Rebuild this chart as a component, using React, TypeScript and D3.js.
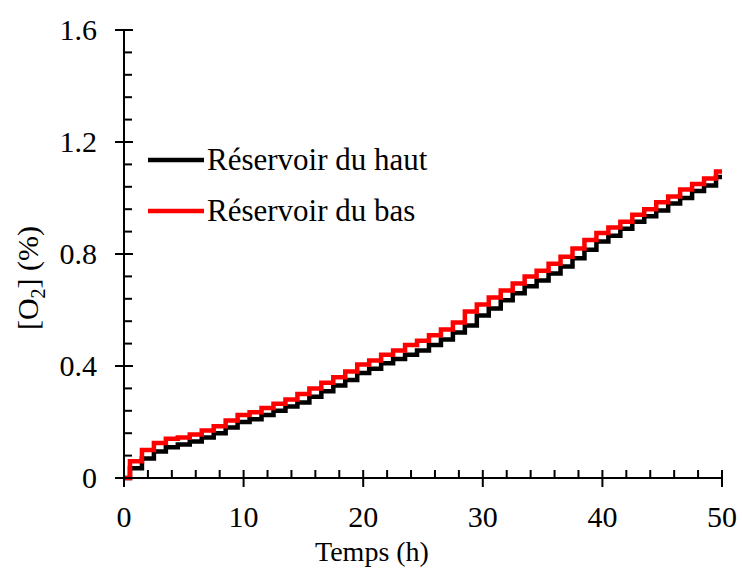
import React from 'react';
import * as d3 from 'd3';

const width = 742;
const height = 569;
const margin = { left: 124, right: 20, top: 30, bottom: 91 };
const font = "'Times New Roman', Tinos, 'Liberation Serif', 'DejaVu Serif', serif";

// time in hours, one reading per hour
const hours = [
  0, 1, 2, 3, 4, 5, 6, 7, 8, 9, 10, 11, 12, 13, 14, 15, 16, 17, 18, 19, 20,
  21, 22, 23, 24, 25, 26, 27, 28, 29, 30, 31, 32, 33, 34, 35, 36, 37, 38, 39, 40,
  41, 42, 43, 44, 45, 46, 47, 48, 49, 50,
];

const hautValues = [
  0, 0.035, 0.07, 0.095, 0.11, 0.12, 0.13, 0.145, 0.16, 0.18, 0.2,
  0.21, 0.225, 0.24, 0.255, 0.27, 0.29, 0.31, 0.33, 0.35, 0.375,
  0.39, 0.41, 0.425, 0.44, 0.455, 0.475, 0.495, 0.52, 0.545, 0.58,
  0.605, 0.635, 0.66, 0.685, 0.705, 0.73, 0.755, 0.785, 0.815, 0.845,
  0.865, 0.89, 0.915, 0.935, 0.955, 0.98, 1.0, 1.025, 1.045, 1.075,
];

const basValues = [
  0, 0.06, 0.1, 0.125, 0.14, 0.145, 0.155, 0.17, 0.185, 0.205, 0.225,
  0.235, 0.25, 0.265, 0.28, 0.3, 0.32, 0.34, 0.36, 0.38, 0.405,
  0.42, 0.44, 0.455, 0.475, 0.49, 0.51, 0.53, 0.555, 0.595, 0.62,
  0.645, 0.67, 0.695, 0.72, 0.74, 0.765, 0.79, 0.82, 0.85, 0.875,
  0.895, 0.915, 0.94, 0.96, 0.985, 1.005, 1.03, 1.05, 1.07, 1.095,
];

const seriesNames = ['Réservoir du haut', 'Réservoir du bas'];
const seriesColors = ['#000000', '#ff0000'];

const xTicks = [0, 10, 20, 30, 40, 50];
const xMinorTicks = d3.range(0, 51, 2).filter(d => d % 10 !== 0);
const yTicks = [0, 0.4, 0.8, 1.2, 1.6];
const yTickLabels = ['0', '0.4', '0.8', '1.2', '1.6'];
const yMinorTicks = d3.range(0, 1.61, 0.08).filter(d => Math.abs(d / 0.4 - Math.round(d / 0.4)) > 0.01);

const x = d3.scaleLinear().domain([0, 50]).range([margin.left, width - margin.right]);
const y = d3.scaleLinear().domain([0, 1.6]).range([height - margin.bottom, margin.top]);

const lineGen = d3
  .line<number>()
  .x((_, i) => x(hours[i]))
  .y(d => y(d))
  .curve(d3.curveStep);

const series = [hautValues, basValues];

const txt = { fontFamily: font, fontSize: 30 };

export default function App() {
  const y0 = y(0);
  const x0 = x(0);
  return (
    <svg
      width={width}
      height={height}
      style={{ position: 'absolute', left: 0, top: 0, background: '#fff' }}
    >
      {/* data */}
      {series.map((vals, i) => (
        <path
          key={i}
          d={lineGen(vals) as string}
          fill="none"
          stroke={seriesColors[i]}
          strokeWidth={4.5}
        />
      ))}

      {/* axes */}
      <line x1={x0} x2={x0} y1={y(1.6)} y2={y0} stroke="#000" strokeWidth={2} />
      <line x1={x0} x2={x(50)} y1={y0} y2={y0} stroke="#000" strokeWidth={2} />

      {yTicks.map((t, i) => (
        <g key={t}>
          <line x1={x0 - 9} x2={x0 + 9} y1={y(t)} y2={y(t)} stroke="#000" strokeWidth={2} />
          <text x={x0 - 27} y={y(t) + 10} textAnchor="end" style={txt}>
            {yTickLabels[i]}
          </text>
        </g>
      ))}
      {yMinorTicks.map(t => (
        <line key={t} x1={x0} x2={x0 + 8} y1={y(t)} y2={y(t)} stroke="#000" strokeWidth={2} />
      ))}

      {xTicks.map(t => (
        <g key={t}>
          <line x1={x(t)} x2={x(t)} y1={y0 - 8} y2={y0 + 9} stroke="#000" strokeWidth={2} />
          <text x={x(t)} y={y0 + 49} textAnchor="middle" style={txt}>
            {t}
          </text>
        </g>
      ))}
      {xMinorTicks.map(t => (
        <line key={t} x1={x(t)} x2={x(t)} y1={y0 - 8} y2={y0} stroke="#000" strokeWidth={2} />
      ))}

      {/* axis titles */}
      <text x={372} y={561} textAnchor="middle" style={{ ...txt, fontSize: 28 }}>
        Temps (h)
      </text>
      <text transform={`translate(38, 278) rotate(-90)`} textAnchor="middle" style={txt}>
        [O<tspan style={{ fontSize: 20 }} dy={7}>2</tspan>
        <tspan dy={-7}>] (%)</tspan>
      </text>

      {/* legend */}
      {seriesNames.map((name, i) => (
        <g key={name} transform={`translate(148, ${160 + i * 51})`}>
          <line x1={0} x2={56} y1={0} y2={0} stroke={seriesColors[i]} strokeWidth={4.5} />
          <text x={59} y={10} style={{ ...txt, fontSize: 31 }}>
            {name}
          </text>
        </g>
      ))}
    </svg>
  );
}
